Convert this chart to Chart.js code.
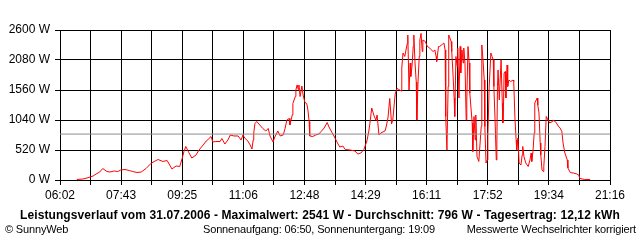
<!DOCTYPE html>
<html>
<head>
<meta charset="utf-8">
<script src="https://cdn.jsdelivr.net/npm/chart.js@4"></script>
<style>
  body { margin: 0; background: #fff; }
  #wrap { position: relative; width: 640px; height: 240px; font-family: 'Liberation Sans', Arial, sans-serif; }
  #chart { position: absolute; left: 0; top: 0; }
  .txt { position: absolute; font-size: 12px; color: #000; white-space: nowrap; line-height: 13px; }
  .foot { font-size: 11px; letter-spacing: -0.15px; top: 223px; }
  #title { left: 0; width: 640px; top: 209px; text-align: center; font-weight: bold; letter-spacing: 0.1px; }
</style>
</head>
<body>
<div id="wrap">
  <canvas id="chart" width="640" height="240"></canvas>
  <div class="txt" id="title">Leistungsverlauf vom 31.07.2006 - Maximalwert: 2541 W - Durchschnitt: 796 W - Tagesertrag: 12,12 kWh</div>
  <div class="txt foot" style="left:5px;">© SunnyWeb</div>
  <div class="txt foot" style="left:203px;">Sonnenaufgang: 06:50, Sonnenuntergang: 19:09</div>
  <div class="txt foot" style="right:4px;">Messwerte Wechselrichter korrigiert</div>
</div>
<script>
// tick labels on the time axis (each one sits on every second grid line)
const timeLabels = ['06:02', '07:43', '09:25', '11:06', '12:48', '14:29', '16:11', '17:52', '19:34', '21:16'];
const yTicks = [0, 520, 1040, 1560, 2080, 2600];
const average = 796;

// power readings (W)
const times = [
  '06:30', '06:40', '06:47', '06:52', '06:57', '07:02', '07:08', '07:13', '07:20', '07:25',
  '07:32', '07:38', '07:43', '07:50', '07:57', '08:03', '08:10', '08:17', '08:25', '08:33',
  '08:40', '08:45', '08:53', '09:00', '09:08', '09:15', '09:21', '09:25', '09:28', '09:31',
  '09:36', '09:41', '09:48', '09:53', '10:00', '10:05', '10:08', '10:13', '10:16', '10:21',
  '10:28', '10:31', '10:36', '10:41', '10:45', '10:51', '10:58', '11:03', '11:06', '11:09',
  '11:14', '11:18', '11:21', '11:23', '11:24', '11:26', '11:29', '11:34', '11:39', '11:44',
  '11:48', '11:51', '11:56', '11:59', '12:04', '12:08', '12:13', '12:16', '12:19', '12:23',
  '12:24', '12:28', '12:29', '12:33', '12:34', '12:36', '12:38', '12:39', '12:41', '12:44',
  '12:46', '12:49', '12:52', '12:54', '12:56', '12:57', '13:02', '13:07', '13:12', '13:16',
  '13:21', '13:26', '13:29', '13:34', '13:39', '13:44', '13:47', '13:52', '13:56', '14:04',
  '14:12', '14:17', '14:22', '14:27', '14:32', '14:35', '14:37', '14:40', '14:44', '14:47',
  '14:49', '14:52', '14:55', '15:02', '15:04', '15:07', '15:10', '15:13', '15:15', '15:19',
  '15:22', '15:25', '15:29', '15:30', '15:32', '15:35', '15:39', '15:40', '15:42', '15:44',
  '15:45', '15:47', '15:49', '15:50', '15:52', '15:54', '15:55', '15:57', '15:59', '16:00',
  '16:02', '16:04', '16:05', '16:09', '16:12', '16:17', '16:22', '16:25', '16:27', '16:28',
  '16:31', '16:33', '16:38', '16:40', '16:42', '16:43', '16:45', '16:47', '16:48', '16:52',
  '16:53', '16:55', '16:57', '16:58', '17:00', '17:02', '17:03', '17:05', '17:07', '17:08',
  '17:10', '17:12', '17:13', '17:15', '17:17', '17:18', '17:20', '17:22', '17:23', '17:27',
  '17:28', '17:30', '17:32', '17:33', '17:35', '17:38', '17:42', '17:43', '17:45', '17:47',
  '17:48', '17:50', '17:52', '17:53', '17:55', '17:58', '18:00', '18:02', '18:03', '18:05',
  '18:07', '18:08', '18:09', '18:10', '18:12', '18:15', '18:17', '18:18', '18:19', '18:20',
  '18:22', '18:23', '18:25', '18:26', '18:28', '18:31', '18:35', '18:36', '18:38', '18:40',
  '18:41', '18:43', '18:45', '18:48', '18:50', '18:51', '18:53', '18:56', '19:00', '19:03',
  '19:05', '19:06', '19:08', '19:10', '19:11', '19:15', '19:16', '19:18', '19:20', '19:21',
  '19:23', '19:25', '19:26', '19:28', '19:30', '19:31', '19:33', '19:36', '19:40', '19:41',
  '19:45', '19:48', '19:50', '19:53', '19:56', '19:58', '20:01', '20:05', '20:06', '20:10',
  '20:15', '20:21', '20:24', '20:26', '20:34', '20:43'
];
const watts = [
  9, 17, 35, 52, 69, 104, 139, 199, 147, 139,
  156, 147, 173, 182, 165, 147, 130, 139, 199, 286,
  329, 355, 321, 338, 191, 243, 234, 373, 494, 581,
  477, 381, 433, 520, 607, 676, 702, 754, 659, 667,
  667, 719, 624, 693, 780, 763, 763, 693, 780, 728,
  676, 607, 537, 693, 815, 979, 1014, 953, 893, 849,
  893, 763, 659, 745, 849, 763, 780, 893, 1040, 1066,
  953, 1127, 1326, 1447, 1560, 1647, 1569, 1647, 1447, 1629,
  1473, 1343, 1326, 1213, 1014, 763, 754, 780, 797, 841,
  901, 997, 919, 823, 728, 624, 572, 589, 529, 520,
  503, 451, 468, 529, 676, 832, 979, 1248, 1109, 1040,
  1127, 780, 815, 849, 919, 1075, 1413, 971, 1040, 1491,
  1586, 1569, 1543, 1941, 2201, 2141, 2366, 2513, 1560, 2028,
  1794, 1967, 2314, 2513, 2028, 1699, 1040, 1699, 2141, 2427,
  2541, 2227, 2427, 2401, 2323, 2279, 2227, 2253, 2141, 2054,
  2314, 2314, 2357, 2375, 2253, 1101, 520, 1621, 2513, 2401,
  2227, 1855, 1421, 1101, 2141, 1967, 2288, 1421, 2314, 1855,
  2253, 2028, 2288, 2028, 1040, 1387, 2314, 2028, 1508, 988,
  494, 1101, 693, 1127, 407, 321, 927, 2340, 2080, 1733,
  927, 295, 347, 754, 1560, 2201, 2141, 2080, 1621, 1040,
  347, 641, 1621, 1907, 1387, 2080, 1335, 988, 1274, 1855,
  1881, 1421, 1993, 1621, 1733, 1707, 1733, 1707, 1075, 693,
  520, 728, 295, 260, 433, 581, 407, 295, 234, 347,
  468, 321, 494, 815, 1335, 1421, 1300, 1161, 641, 433,
  173, 147, 234, 581, 1101, 1101, 1040, 988, 1014, 1040,
  1014, 971, 936, 901, 841, 641, 468, 347, 208, 130,
  121, 104, 87, 26, 9, 9
];

function toMin(t) {
  const [h, m] = t.split(':').map(Number);
  return h * 60 + m;
}

const xMin = toMin(timeLabels[0]);
const xMax = toMin(timeLabels[timeLabels.length - 1]);
const gridCount = (timeLabels.length - 1) * 2;

const points = times.map((t, i) => ({ x: toMin(t), y: watts[i] }));

new Chart(document.getElementById('chart'), {
  type: 'line',
  data: {
    datasets: [
      {
        data: [{ x: xMin, y: average }, { x: xMax, y: average }],
        borderColor: '#8c8c8c',
        borderWidth: 1,
        pointRadius: 0
      },
      {
        data: points,
        borderColor: '#ff0000',
        borderWidth: 1,
        pointRadius: 0,
        tension: 0
      }
    ]
  },
  options: {
    responsive: false,
    animation: false,
    events: [],
    layout: { padding: { top: 30, right: 30, bottom: 40, left: 0 } },
    plugins: { legend: { display: false }, tooltip: { enabled: false } },
    scales: {
      x: {
        type: 'linear',
        min: xMin,
        max: xMax,
        afterFit: s => { s.height = 20; },
        afterBuildTicks: s => {
          const ticks = [];
          for (let i = 0; i <= gridCount; i++) {
            ticks.push({ value: xMin + i * (xMax - xMin) / gridCount });
          }
          s.ticks = ticks;
        },
        ticks: {
          autoSkip: false,
          maxRotation: 0,
          padding: 3,
          color: '#000',
          font: { family: 'Liberation Sans', size: 12 },
          callback: (v, i) => (i % 2 === 0 ? timeLabels[i / 2] : '')
        },
        grid: { color: '#000', lineWidth: 1, tickLength: 5 },
        border: { color: '#000', width: 1 }
      },
      y: {
        min: 0,
        max: 2600,
        afterFit: s => { s.width = 60; },
        afterBuildTicks: s => { s.ticks = yTicks.map(v => ({ value: v })); },
        ticks: {
          padding: 5,
          color: '#000',
          font: { family: 'Liberation Sans', size: 12 },
          callback: v => v + ' W'
        },
        grid: { color: '#000', lineWidth: 1, tickLength: 5 },
        border: { color: '#000', width: 1 }
      }
    }
  }
});
</script>
</body>
</html>
